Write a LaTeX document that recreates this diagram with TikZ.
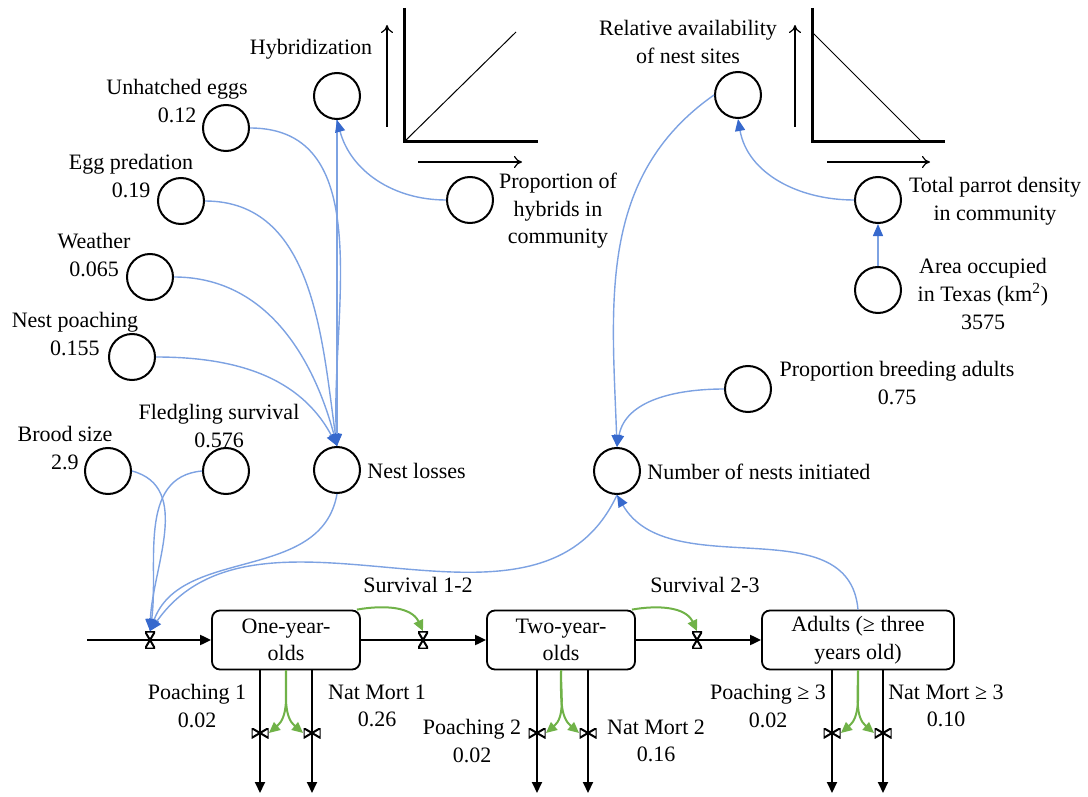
\documentclass[tikz,border=0pt]{standalone}
\usepackage{fontspec}
\setmainfont{Liberation Serif}
\usetikzlibrary{arrows.meta}
\definecolor{linkblue}{RGB}{125,162,226}
\definecolor{tipblue}{RGB}{55,105,205}
\definecolor{ctrlgreen}{RGB}{112,178,72}
\tikzset{
  aux/.style={circle,draw,line width=1pt,minimum size=23pt,inner sep=0pt},
  stock/.style={draw,rounded corners=4pt,line width=0.9pt,minimum width=74pt,minimum height=29.5pt,align=center,inner sep=1pt},
  txt/.style={align=center,inner sep=0pt},
  link/.style={linkblue,line width=0.7pt,-{Triangle[length=6pt,width=5pt,color=tipblue]}},
  flow/.style={line width=1pt,-{Triangle[length=5.5pt,width=5pt]}},
  ctrl/.style={ctrlgreen,line width=1pt,-{Triangle[length=5.5pt,width=5pt]}},
  valveh/.style={inner sep=0pt,minimum width=5pt,minimum height=8.5pt,
    path picture={\draw[line width=1pt] (path picture bounding box.north west) -- (path picture bounding box.north east)
      -- (path picture bounding box.south west) -- (path picture bounding box.south east) -- cycle;}},
  valvev/.style={inner sep=0pt,minimum width=8.5pt,minimum height=5pt,
    path picture={\draw[line width=1pt] (path picture bounding box.north west) -- (path picture bounding box.south west)
      -- (path picture bounding box.north east) -- (path picture bounding box.south east) -- cycle;}}
}
\begin{document}
\begin{tikzpicture}[x=0.5pt,y=-0.5pt,font=\fontsize{11}{13.8}\selectfont]
  \useasboundingbox (0,0) rectangle (1088,797);

  % graphs
  \draw[line width=1.5pt] (404,8) -- (404,142) -- (538,142);
  \draw[line width=0.5pt] (404,142) -- (516,32);
  \draw[line width=0.6pt,-{To[length=4pt,width=6pt]}] (387,127) -- (387,25);
  \draw[line width=0.6pt,-{To[length=4pt,width=6pt]}] (418,162) -- (522,162);

  \draw[line width=1.5pt] (812,8) -- (812,142) -- (945,142);
  \draw[line width=0.5pt] (812,32) -- (922,142);
  \draw[line width=0.6pt,-{To[length=4pt,width=6pt]}] (795,127) -- (795,25);
  \draw[line width=0.6pt,-{To[length=4pt,width=6pt]}] (827,162) -- (930,162);

  % auxiliaries
  \node[aux] (unhatched) at (226,128) {};
  \node[aux] (eggpred) at (181,201) {};
  \node[aux] (weather) at (150,277) {};
  \node[aux] (nestpoach) at (132,357) {};
  \node[aux] (brood) at (108,471) {};
  \node[aux] (fledge) at (226,471) {};
  \node[aux] (nloss) at (337,470) {};
  \node[aux] (hyb) at (337,96) {};
  \node[aux] (prophyb) at (470,200) {};
  \node[aux] (relavail) at (738,95) {};
  \node[aux] (totdens) at (878,200) {};
  \node[aux] (area) at (878,290) {};
  \node[aux] (propbreed) at (748,389) {};
  \node[aux] (nests) at (617,471) {};

  \node[txt] (unhatchedT) at (177,101) {Unhatched eggs\\0.12};
  \node[txt] (eggpredT) at (131,176) {Egg predation\\0.19};
  \node[txt] (weatherT) at (94,255) {Weather\\0.065};
  \node[txt] (nestpoachT) at (75,334) {Nest poaching\\0.155};
  \node[txt] (broodT) at (65,448) {Brood size\\2.9};
  \node[txt] (fledgeT) at (219,426) {Fledgling survival\\0.576};
  \node[txt,anchor=west] (nlossT) at (367,471) {Nest losses};
  \node[txt] (hybT) at (311,49) {Hybridization};
  \node[txt] (prophybT) at (558,211) {Proportion of\\hybrids in\\community};
  \node[txt] (relavailT) at (688,42) {Relative availability\\of nest sites};
  \node[txt] (totdensT) at (995,201) {Total parrot density\\in community};
  \node[txt] (areaT) at (983,294) {Area occupied\\in Texas (km\textsuperscript{2})\\3575};
  \node[txt] (propbreedT) at (897,383) {Proportion breeding adults\\0.75};
  \node[txt,anchor=west] (nestsT) at (647,472) {Number of nests initiated};

  % stocks
  \node[stock] (one) at (286,640) {One-year-\\olds};
  \node[stock] (two) at (561,640) {Two-year-\\olds};
  \node[stock,minimum width=96pt] (adults) at (858,640) {Adults (≥ three\\years old)};

  % valves
  \node[valveh] (vin) at (150,640) {};
  \node[valveh] (v12) at (423,640) {};
  \node[valveh] (v23) at (697,640) {};
  \node[valvev] (vp1) at (260,733) {};
  \node[valvev] (vn1) at (312,733) {};
  \node[valvev] (vp2) at (537,733) {};
  \node[valvev] (vn2) at (588,733) {};
  \node[valvev] (vp3) at (832,733) {};
  \node[valvev] (vn3) at (883,733) {};

  \coordinate (src) at (87,640);
  \coordinate (sp1) at (260,793);
  \coordinate (sn1) at (312,793);
  \coordinate (sp2) at (537,793);
  \coordinate (sn2) at (588,793);
  \coordinate (sp3) at (832,793);
  \coordinate (sn3) at (883,793);

  % flows
  \draw[flow] (src) -- (vin.center) -- (one.west);
  \draw[flow] (one.east) -- (v12.center) -- (two.west);
  \draw[flow] (two.east) -- (v23.center) -- (adults.west);
  \draw[flow] (one.south -| vp1) -- (vp1.center) -- (sp1);
  \draw[flow] (one.south -| vn1) -- (vn1.center) -- (sn1);
  \draw[flow] (two.south -| vp2) -- (vp2.center) -- (sp2);
  \draw[flow] (two.south -| vn2) -- (vn2.center) -- (sn2);
  \draw[flow] (adults.south -| vp3) -- (vp3.center) -- (sp3);
  \draw[flow] (adults.south -| vn3) -- (vn3.center) -- (sn3);

  \node[txt] (s12T) at (418,585) {Survival 1-2};
  \node[txt] (s23T) at (705,585) {Survival 2-3};
  \node[txt] (vp1T) at (197,706) {Poaching 1\\0.02};
  \node[txt] (vn1T) at (377,706) {Nat Mort 1\\0.26};
  \node[txt] (vp2T) at (472,741) {Poaching 2\\0.02};
  \node[txt] (vn2T) at (656,741) {Nat Mort 2\\0.16};
  \node[txt] (vp3T) at (768,706) {Poaching ≥ 3\\0.02};
  \node[txt] (vn3T) at (946,706) {Nat Mort ≥ 3\\0.10};

  % green rates
  \draw[ctrl] ([xshift=-2pt]one.north east) to[out=10,in=115] (v12.north);
  \draw[ctrl] ([xshift=-2pt]two.north east) to[out=10,in=115] (v23.north);
  \draw[ctrl] (one.south) to[out=-90,in=40] (vp1.east);
  \draw[ctrl] (one.south) to[out=-90,in=140] (vn1.west);
  \draw[ctrl] (two.south) to[out=-90,in=40] (vp2.east);
  \draw[ctrl] (two.south) to[out=-90,in=140] (vn2.west);
  \draw[ctrl] (adults.south) to[out=-90,in=40] (vp3.east);
  \draw[ctrl] (adults.south) to[out=-90,in=140] (vn3.west);

  % blue links
  \draw[link] (unhatched.east) to[out=0,in=93] (nloss.north);
  \draw[link] (eggpred.east) to[out=0,in=98] (nloss.north);
  \draw[link] (weather.east) to[out=0,in=105] (nloss.north);
  \draw[link] (nestpoach.east) to[out=0,in=118] (nloss.north);
  \draw[link] (hyb.south) -- (nloss.north);
  \draw[link] (prophyb.west) to[out=180,in=-75] (hyb.south);
  \draw[link] (brood.east) to[out=-15,in=88] (vin.north);
  \draw[link] (fledge.west) to[out=185,in=82] (vin.north);
  \draw[link] (nloss.south) to[out=-100,in=70] (vin.north);
  \draw[link] (nests.south) to[out=-115,in=55] (vin.north);
  \draw[link] (adults.north) to[out=95,in=-60] (nests.south);
  \draw[link] (propbreed.west) to[out=180,in=80] (nests.north);
  \draw[link] (relavail.west) to[out=215,in=92] (nests.north);
  \draw[link] (totdens.west) to[out=180,in=-80] (relavail.south);
  \draw[link] (area.north) -- (totdens.south);
\end{tikzpicture}
\end{document}
